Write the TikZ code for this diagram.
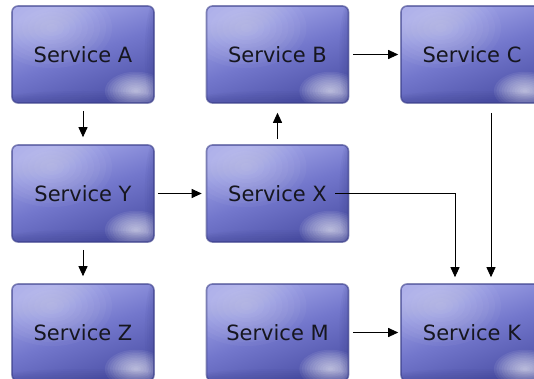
\documentclass[tikz,border=0pt]{standalone}
\usepackage{fontspec}
\setmainfont{DejaVu Sans}
\usetikzlibrary{arrows.meta}
\definecolor{boxtop}{HTML}{A6A9EA}
\definecolor{boxmid}{HTML}{7377CC}
\definecolor{boxbot}{HTML}{4E52A8}
\definecolor{boxedge}{HTML}{383C88}
\definecolor{txt}{HTML}{16161F}
\tikzset{
  svc/.style={
    minimum width=142pt, minimum height=97pt, inner sep=0pt,
    rounded corners=6pt, text=txt, font=\fontsize{21}{24}\selectfont,
    top color=boxtop, bottom color=boxbot, middle color=boxmid, shading angle=20,
    draw=boxedge, draw opacity=0.6, line width=1.6pt,
    path picture={
      \foreach \r in {1,...,12}
        \fill[white, opacity=0.075]
          ([xshift=-18pt,yshift=12pt]path picture bounding box.south east)
          ellipse ({\r*2.6pt} and {\r*1.6pt});
      \foreach \r in {1,...,10}
        \fill[white, opacity=0.035]
          ([xshift=40pt,yshift=-22pt]path picture bounding box.north west)
          ellipse ({\r*6pt} and {\r*4pt});
      \foreach \r in {1,...,6}
        \fill[boxedge, opacity=0.06]
          ([xshift=4pt]path picture bounding box.east)
          ellipse ({\r*2.2pt} and 60pt);
      \foreach \r in {1,...,5}
        \fill[boxedge, opacity=0.06]
          ([yshift=2pt]path picture bounding box.south)
          ellipse (90pt and {\r*2pt});
    }
  },
  conn/.style={draw=black, line width=0.9pt, -{Triangle[length=10pt,width=9pt]}}
}
\begin{document}
\begin{tikzpicture}[x=1pt,y=-1pt]
\useasboundingbox (0,0) rectangle (534,379);
\fill[white] (0,0) rectangle (534,379);
\node[svc] (A) at (83,54.5) {Service A};
\node[svc] (B) at (277.5,54.5) {Service B};
\node[svc] (C) at (472,54.5) {Service C};
\node[svc] (Y) at (83,193.5) {Service Y};
\node[svc] (X) at (277.5,193.5) {Service X};
\node[svc] (Z) at (83,332.5) {Service Z};
\node[svc] (M) at (277.5,332.5) {Service M};
\node[svc] (K) at (472,332.5) {Service K};
\coordinate (xs) at ([xshift=-14pt]X.east);
\draw[conn, shorten <=7pt, shorten >=7pt] (A.south) -- (Y.north);
\draw[conn, shorten <=7pt, shorten >=7pt] (Y.south) -- (Z.north);
\draw[conn, shorten <=3pt, shorten >=4pt] (Y.east) -- (X.west);
\draw[conn, shorten <=5pt, shorten >=9pt] (X.north) -- (B.south);
\draw[conn, shorten <=4pt, shorten >=2pt] (B.east) -- (C.west);
\draw[conn, shorten <=4pt, shorten >=2pt] (M.east) -- (K.west);
\draw[conn, shorten >=6pt] (xs) -| ([xshift=-17pt]K.north);
\draw[conn, shorten <=9pt, shorten >=6pt] ([xshift=19pt]C.south) -- ([xshift=19pt]K.north);
\end{tikzpicture}
\end{document}
